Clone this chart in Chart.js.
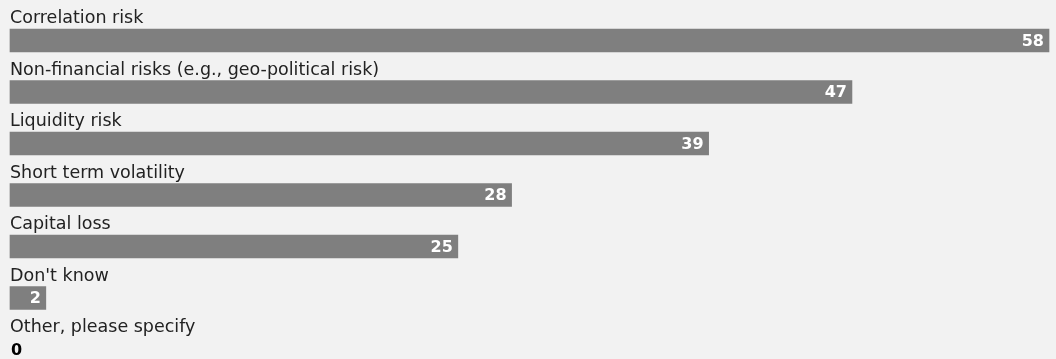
<!DOCTYPE html>
<html lang="en">
<head>
  <meta charset="UTF-8" />
  <title>Risk concerns</title>
  <script src="https://cdn.jsdelivr.net/npm/chart.js"></script>
  <style>
    html, body {
      margin: 0;
      padding: 0;
      background: #f2f2f2;
      overflow: hidden;
    }
    #chart-container {
      width: 1056px;
      height: 359px;
    }
  </style>
</head>
<body>
  <div id="chart-container">
    <canvas id="riskChart"></canvas>
  </div>

  <script>
    const categories = [
      'Correlation risk',
      'Non-financial risks (e.g., geo-political risk)',
      'Liquidity risk',
      'Short term volatility',
      'Capital loss',
      "Don't know",
      'Other, please specify'
    ];
    const values = [58, 47, 39, 28, 25, 2, 0];

    const labelFont = '17.5px "DejaVu Sans", sans-serif';
    const valueFont = 'bold 16px "DejaVu Sans", sans-serif';

    // category name above each bar, value inside the bar end
    const barLabels = {
      id: 'barLabels',
      afterDatasetsDraw(chart) {
        const ctx = chart.ctx;
        const meta = chart.getDatasetMeta(0);
        const left = chart.chartArea.left;
        ctx.save();
        meta.data.forEach((bar, i) => {
          const top = bar.y - 11.5;
          ctx.font = labelFont;
          ctx.fillStyle = '#222';
          ctx.textAlign = 'left';
          ctx.textBaseline = 'alphabetic';
          ctx.fillText(categories[i], left, top - 6);

          ctx.font = valueFont;
          ctx.textBaseline = 'middle';
          if (values[i] > 0) {
            ctx.fillStyle = '#fff';
            ctx.textAlign = 'right';
            ctx.fillText(values[i], bar.x - 5, bar.y + 1);
          } else {
            ctx.fillStyle = '#000';
            ctx.textAlign = 'left';
            ctx.fillText(values[i], left + 1, bar.y + 1);
          }
        });
        ctx.restore();
      }
    };

    new Chart(document.getElementById('riskChart'), {
      type: 'bar',
      data: {
        labels: categories,
        datasets: [{
          data: values,
          // a zero value gets no visible bar, just its label
          backgroundColor: ctx => ctx.raw > 0 ? '#7f7f7f' : 'rgba(0,0,0,0)',
          borderWidth: 0,
          barThickness: 23,
          clip: false
        }]
      },
      options: {
        indexAxis: 'y',
        responsive: true,
        maintainAspectRatio: false,
        animation: false,
        layout: {
          padding: { left: 10, right: 7, top: 40.5, bottom: 9.5 }
        },
        scales: {
          x: { display: false, min: 0, max: 58 },
          y: { display: false, offset: false }
        },
        plugins: {
          legend: { display: false },
          tooltip: { enabled: false }
        }
      },
      plugins: [barLabels]
    });
  </script>
</body>
</html>
